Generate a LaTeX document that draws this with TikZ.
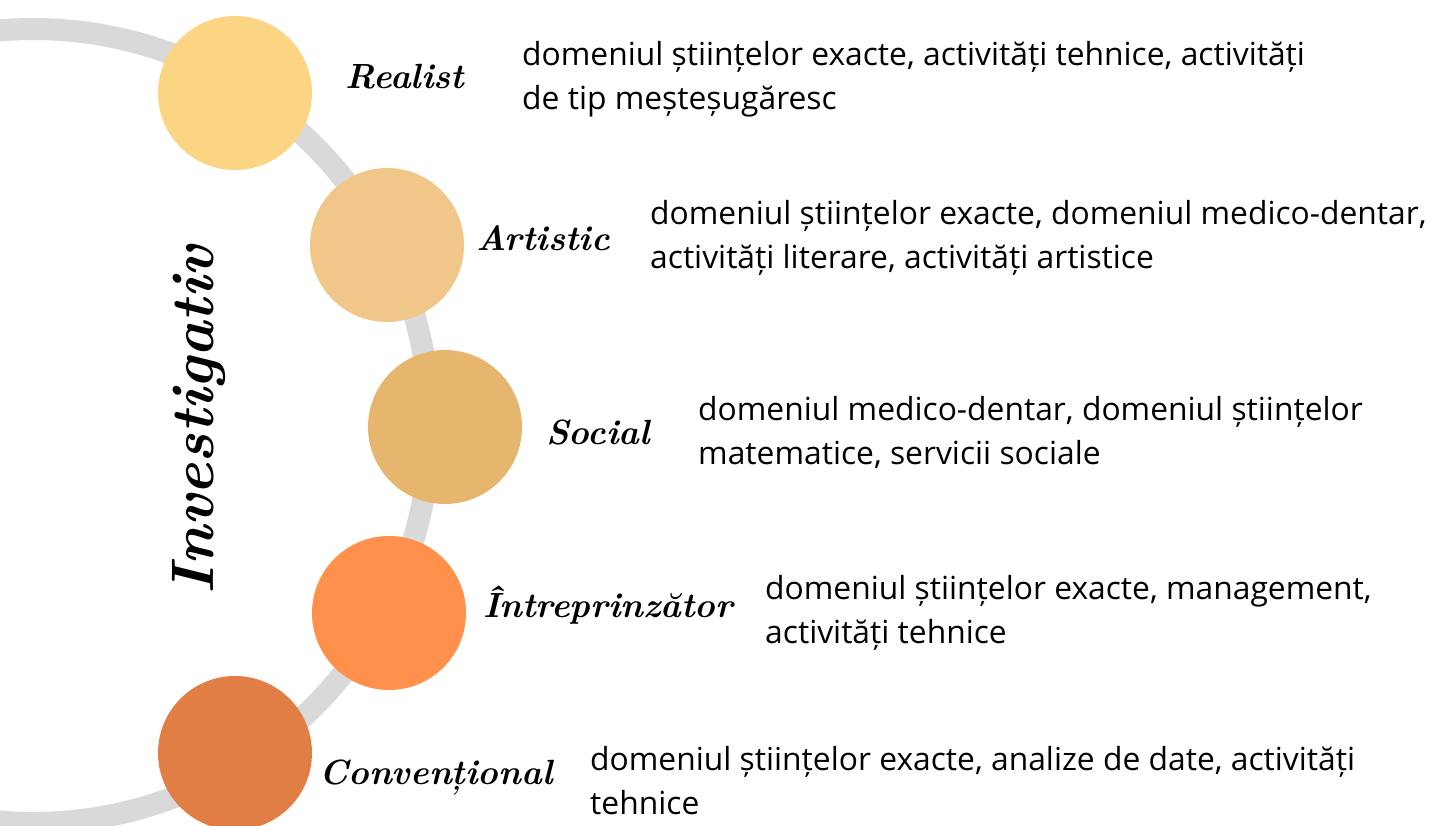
\documentclass[tikz,border=0pt]{standalone}
\usepackage{fontspec}
\newfontfamily\bodyfont{Open Sans}
\definecolor{arcgray}{HTML}{D9D9D9}
\definecolor{cA}{HTML}{FBD583}
\definecolor{cB}{HTML}{F0C689}
\definecolor{cC}{HTML}{E6B66E}
\definecolor{cD}{HTML}{FF914D}
\definecolor{cE}{HTML}{E07E45}
\tikzset{
  dot/.style={circle, inner sep=0pt, minimum size=154pt, draw=none},
  typelabel/.style={font=\fontsize{35}{40}\selectfont\bfseries\itshape, inner sep=0pt},
  biglabel/.style={font=\fontsize{60}{64}\selectfont\bfseries\itshape, inner sep=0pt},
  desc/.style={font=\bodyfont\fontsize{31.8}{44}\selectfont, align=left, anchor=west, inner sep=0pt}
}
\begin{document}
\begin{tikzpicture}[x=1pt,y=-1pt]
\useasboundingbox (0,0) rectangle (1433,825);
\clip (0,0) rectangle (1433,825);
\fill[white] (0,0) rectangle (1433,825);
\draw[line width=22pt, arcgray] (33,426) circle (397pt);
\node[dot, fill=cA] (r) at (235,93) {};
\node[dot, fill=cB] (a) at (387,245) {};
\node[dot, fill=cC] (s) at (445,427) {};
\node[dot, fill=cD] (i) at (389,613) {};
\node[dot, fill=cE] (c) at (235,753) {};
\node[biglabel, rotate=90] (inv) at (199,420) {Investigativ};
\node[typelabel] (rl) at (405,77) {Realist};
\node[typelabel] (al) at (543,238) {Artistic};
\node[typelabel] (sl) at (598,432) {Social};
\node[typelabel] (il) at (608,605) {Întreprinzător};
\node[typelabel] (cl) at (436,778) {Convențional};
\node[desc] (rd) at (522,79) {domeniul științelor exacte, activități tehnice, activități\\de tip meșteșugăresc};
\node[desc] (ad) at (650,238) {domeniul științelor exacte, domeniul medico-dentar,\\activități literare, activități artistice};
\node[desc] (sd) at (698,432) {domeniul medico-dentar, domeniul științelor\\matematice, servicii sociale};
\node[desc] (id) at (765,613) {domeniul științelor exacte, management,\\activități tehnice};
\node[desc] (cd) at (590,781) {domeniul științelor exacte, analize de date, activități\\tehnice};
\end{tikzpicture}
\end{document}
